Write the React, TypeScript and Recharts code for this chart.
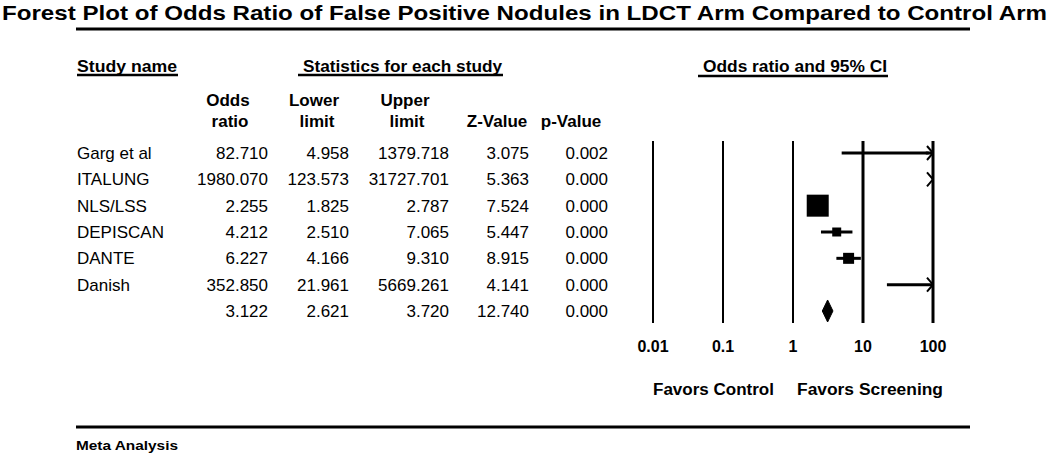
import React from 'react';
import { ScatterChart, Scatter, XAxis, YAxis, ReferenceLine } from 'recharts';

// ---------- data ----------
const studyNames = ['Garg et al', 'ITALUNG', 'NLS/LSS', 'DEPISCAN', 'DANTE', 'Danish', ''];
const oddsRatios = [82.71, 1980.07, 2.255, 4.212, 6.227, 352.85, 3.122];
const lowerLimits = [4.958, 123.573, 1.825, 2.51, 4.166, 21.961, 2.621];
const upperLimits = [1379.718, 31727.701, 2.787, 7.065, 9.31, 5669.261, 3.72];
const zValues = [3.075, 5.363, 7.524, 5.447, 8.915, 4.141, 12.74];
const pValues = [0.002, 0.0, 0.0, 0.0, 0.0, 0.0, 0.0];
// relative study weights (drive marker area)
const studyWeights = [1, 1, 60, 10, 15, 1];
const xTicks = [0.01, 0.1, 1, 10, 100];
const xDomain: [number, number] = [0.01, 100];
const rowTicks = [1, 2, 3, 4, 5, 6, 7];

// ---------- derived ----------
const nStudies = studyWeights.length;
const summaryRow = studyNames.length;
const [AXIS_MIN, AXIS_MAX] = xDomain;

const squareData = oddsRatios
  .slice(0, nStudies)
  .map((or, i) => ({ x: or, y: i + 1, w: studyWeights[i] }))
  .filter((d) => d.x >= AXIS_MIN && d.x <= AXIS_MAX);

const ciSegments = lowerLimits.slice(0, nStudies).map((lo, i) => ({
  lo: Math.max(lo, AXIS_MIN),
  hi: Math.min(upperLimits[i], AXIS_MAX),
  row: i + 1,
})).filter((s) => s.lo < s.hi);

const arrowData = upperLimits
  .slice(0, nStudies)
  .map((hi, i) => ({ x: AXIS_MAX, y: i + 1, over: hi > AXIS_MAX }))
  .filter((d) => d.over);

const si = summaryRow - 1;
const diamondData = [
  { x: lowerLimits[si], y: summaryRow },
  { x: oddsRatios[si], y: summaryRow },
  { x: upperLimits[si], y: summaryRow },
];

// ---------- styling ----------
const FONT = "'Liberation Sans', Arial, Helvetica, sans-serif";
const INK = '#000';
const colRight = [268, 349, 449, 529, 608];
const vLineWidths = [2, 2, 2, 3, 3];

const TableTick = (props: any) => {
  const { y, payload } = props;
  const i = Math.round(payload.value) - 1;
  if (i < 0 || i >= studyNames.length) return <g />;
  const by = y + 6;
  const vals = [oddsRatios[i], lowerLimits[i], upperLimits[i], zValues[i], pValues[i]];
  return (
    <g fontFamily={FONT} fontSize={17} fill={INK}>
      <text x={77} y={by} textAnchor="start">{studyNames[i]}</text>
      {vals.map((v, k) => (
        <text key={k} x={colRight[k]} y={by} textAnchor="end">{v.toFixed(3)}</text>
      ))}
    </g>
  );
};

const XTick = (props: any) => {
  const { x, y, payload } = props;
  return (
    <text x={x} y={y + 29} textAnchor="middle" fontFamily={FONT} fontWeight="bold" fontSize={16} fill={INK}>
      {String(payload.value)}
    </text>
  );
};

const SquareShape = (props: any) => {
  const { cx, cy, payload } = props;
  const s = 2.84 * Math.sqrt(payload.w);
  return <rect x={cx - s / 2} y={cy - s / 2} width={s} height={s} fill={INK} />;
};

const ArrowShape = (props: any) => {
  const { cx, cy } = props;
  return (
    <path d={`M${cx - 6},${cy - 7} L${cx},${cy} L${cx - 6},${cy + 7}`} fill="none" stroke={INK} strokeWidth={2} />
  );
};

const EmptyShape = () => <g />;

const DiamondLine = (props: any) => {
  const pts = props.points || [];
  if (pts.length < 3) return <g />;
  const [a, c, b] = pts;
  const h = 11;
  const d = `M${a.x},${a.y} L${c.x},${c.y - h} L${b.x},${b.y} L${c.x},${c.y + h} Z`;
  return <path d={d} fill={INK} stroke={INK} strokeWidth={1} />;
};

const Overlay = () => (
  <svg width={1050} height={455} style={{ position: 'absolute', left: 0, top: 0, pointerEvents: 'none' }}>
    <g fontFamily={FONT} fill={INK} fontWeight="bold">
      <text x={2} y={20} fontSize={21} textLength={1045} lengthAdjust="spacingAndGlyphs">
        Forest Plot of Odds Ratio of False Positive Nodules in LDCT Arm Compared to Control Arm
      </text>
      <text x={77} y={72} fontSize={17} textLength={100} lengthAdjust="spacingAndGlyphs">Study name</text>
      <text x={303} y={72} fontSize={17} textLength={199} lengthAdjust="spacingAndGlyphs">Statistics for each study</text>
      <text x={703} y={72} fontSize={17} textLength={184} lengthAdjust="spacingAndGlyphs">Odds ratio and 95% CI</text>

      <text x={228} y={106} fontSize={17} textAnchor="middle">Odds</text>
      <text x={230} y={127} fontSize={17} textAnchor="middle">ratio</text>
      <text x={314} y={106} fontSize={17} textAnchor="middle">Lower</text>
      <text x={317} y={127} fontSize={17} textAnchor="middle">limit</text>
      <text x={405} y={106} fontSize={17} textAnchor="middle">Upper</text>
      <text x={407} y={127} fontSize={17} textAnchor="middle">limit</text>
      <text x={497} y={127} fontSize={17} textAnchor="middle">Z-Value</text>
      <text x={571} y={127} fontSize={17} textAnchor="middle">p-Value</text>

      <text x={653} y={395} fontSize={16} textLength={121} lengthAdjust="spacingAndGlyphs">Favors Control</text>
      <text x={797} y={395} fontSize={16} textLength={146} lengthAdjust="spacingAndGlyphs">Favors Screening</text>

      <text x={76} y={450} fontSize={13} textLength={102} lengthAdjust="spacingAndGlyphs">Meta Analysis</text>
    </g>
    <g stroke={INK}>
      <line x1={76} x2={970} y1={29} y2={29} strokeWidth={3} />
      <line x1={77} x2={178} y1={75} y2={75} strokeWidth={2.5} />
      <line x1={298} x2={503} y1={75} y2={75} strokeWidth={2.5} />
      <line x1={698} x2={888} y1={76} y2={76} strokeWidth={2.5} />
      <line x1={76} x2={970} y1={427} y2={427} strokeWidth={3} />
    </g>
  </svg>
);

export default function App() {
  return (
    <div style={{ position: 'absolute', left: 0, top: 0, width: 1050, height: 455, background: '#fff' }}>
      <ScatterChart
        width={1050}
        height={455}
        margin={{ top: 141, right: 117, bottom: 102, left: 0 }}
      >
        <XAxis
          type="number"
          dataKey="x"
          scale="log"
          domain={xDomain}
          ticks={xTicks}
          allowDataOverflow
          axisLine={false}
          tickLine={false}
          tickSize={0}
          tickMargin={0}
          height={30}
          interval={0}
          tick={<XTick />}
        />
        <YAxis
          type="number"
          dataKey="y"
          domain={[0.544, 7.456]}
          reversed
          ticks={rowTicks}
          interval={0}
          allowDataOverflow
          width={653}
          axisLine={false}
          tickLine={false}
          tick={<TableTick />}
        />
        {xTicks.map((t, k) => (
          <ReferenceLine key={`v${t}`} x={t} stroke={INK} strokeWidth={vLineWidths[k]} ifOverflow="visible" />
        ))}
        {ciSegments.map((s) => (
          <ReferenceLine
            key={`ci${s.row}`}
            segment={[{ x: s.lo, y: s.row }, { x: s.hi, y: s.row }]}
            stroke={INK}
            strokeWidth={3}
            ifOverflow="visible"
          />
        ))}
        <Scatter data={squareData} shape={<SquareShape />} isAnimationActive={false} />
        <Scatter data={arrowData} shape={<ArrowShape />} isAnimationActive={false} />
        <Scatter
          data={diamondData}
          shape={<EmptyShape />}
          line={(p: any) => <DiamondLine {...p} />}
          lineType="joint"
          isAnimationActive={false}
        />
      </ScatterChart>
      <Overlay />
    </div>
  );
}
